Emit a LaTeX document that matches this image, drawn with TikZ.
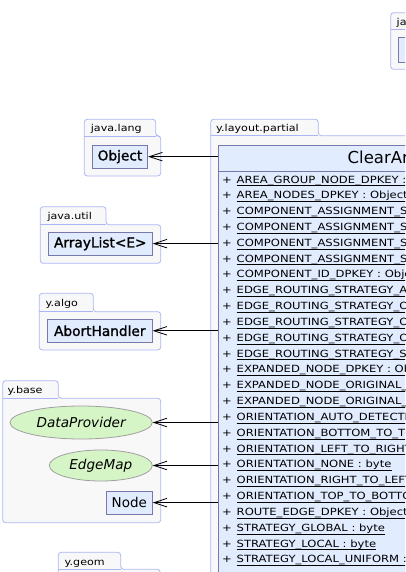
\documentclass[tikz,border=0pt]{standalone}
\usepackage{fontspec}
\setmainfont{DejaVu Sans}
\newfontfamily\rowfont[FakeStretch=1.17]{DejaVu Sans}
\newfontfamily\clsfont[FakeBold=1.3]{DejaVu Sans}
\usetikzlibrary{arrows.meta,shapes.geometric}
\definecolor{pkgborder}{RGB}{172,182,245}
\definecolor{pkgfill}{RGB}{248,248,248}
\definecolor{clsfill}{RGB}{226,236,255}
\definecolor{clsborder}{RGB}{120,120,172}
\definecolor{ellfill}{RGB}{214,245,198}
\definecolor{ellborder}{RGB}{160,160,160}
\newcommand\pkgoutline[6]{%
  \draw[pkg] (#1,#4) -- (#1,#3) -- (#2,#3) -- (#2,#4) -- (#5,#4) -- (#5,#6) -- (#1,#6) -- cycle;
  \draw[pkgborder, line width=0.8pt] (#1,#4) -- (#2,#4);}
\begin{document}
\begin{tikzpicture}[x=1pt,y=-1pt,
  pkg/.style={draw=pkgborder, fill=pkgfill, line width=0.8pt, rounded corners=3pt},
  pkgtxt/.style={inner sep=0pt, anchor=base west, font=\rowfont\fontsize{9.5}{11}\selectfont},
  clsbox/.style={draw=clsborder, fill=clsfill, line width=0.8pt, rectangle, inner sep=0pt},
  clsname/.style={clsbox, font=\clsfont\fontsize{13.7}{15}\selectfont},
  ifcbox/.style={draw=ellborder, fill=ellfill, line width=0.8pt, ellipse, inner sep=0pt,
     font=\fontsize{13.6}{15}\selectfont\itshape},
  rowtxt/.style={inner sep=0pt, anchor=base west, font=\rowfont\fontsize{9.9}{11}\selectfont},
  dep/.style={draw=black, line width=0.8pt, -{Straight Barb[length=13pt,width=8.5pt]}}]
\clip (0,0) rectangle (405,572);
% packages
\pkgoutline{84.3}{155.7}{119.3}{136}{160.7}{176}
\pkgoutline{40.3}{106}{206.7}{224.7}{160.7}{263.3}
\pkgoutline{39.3}{93.3}{293.3}{311.7}{160.7}{350}
\pkgoutline{2.7}{58.3}{380.7}{398.3}{160.7}{522.7}
\pkgoutline{58.3}{120.7}{552.3}{569.3}{160.3}{660}
\pkgoutline{210.7}{318.3}{119.3}{135.7}{620}{700}
\pkgoutline{390.7}{470}{12.7}{29.3}{520}{69.3}
\node[pkgtxt] (l1) at (90.7,131.5) {java.lang};
\node[pkgtxt] (l2) at (47.3,219.2) {java.util};
\node[pkgtxt] (l3) at (45.5,306.3) {y.algo};
\node[pkgtxt] (l4) at (7.3,393.6) {y.base};
\node[pkgtxt] (l5) at (64.5,565.6) {y.geom};
\node[pkgtxt] (l6) at (216,131.3) {y.layout.partial};
\node[pkgtxt] (l7) at (396.5,25.2) {java.lang};
% classes
\node[clsname, minimum width=55.4pt, minimum height=23.3pt] (object) at (120,156.65) {Object};
\node[clsname, minimum width=104pt, minimum height=22.7pt] (arraylist) at (100.3,243.65) {ArrayList<E>};
\node[clsname, minimum width=105pt, minimum height=23pt] (abort) at (99.8,330.8) {AbortHandler};
\node[ifcbox, minimum width=142.3pt, minimum height=33pt] (dataprov) at (81.15,422.5) {DataProvider};
\node[ifcbox, minimum width=103pt, minimum height=31pt] (edgemap) at (100.8,465.5) {EdgeMap};
\node[clsbox, minimum width=46pt, minimum height=23.3pt, font=\fontsize{13.5}{15}\selectfont] (nodecls) at (129.3,502.65) {Node};
\node[clsbox, minimum width=120pt, minimum height=24.4pt, anchor=north west] (jcls) at (398.3,37.3) {};
\node[clsbox, minimum width=400pt, minimum height=600pt, anchor=north west] (cls) at (218,145) {};
\draw[clsborder, line width=0.8pt] ([yshift=-26pt]cls.north west) -- ([yshift=-26pt]cls.north east);
\node[inner sep=0pt, anchor=base west, font=\fontsize{16.5}{18}\selectfont] (title) at (347.5,164) {ClearAreaLayouter};
\foreach \t [count=\i] in {
 AREA\_GROUP\_NODE\_DPKEY : Object,
 AREA\_NODES\_DPKEY : Object,
 COMPONENT\_ASSIGNMENT\_STRATEGY\_CLUSTERING : byte,
 COMPONENT\_ASSIGNMENT\_STRATEGY\_CONNECTED : byte,
 COMPONENT\_ASSIGNMENT\_STRATEGY\_CUSTOMIZED : byte,
 COMPONENT\_ASSIGNMENT\_STRATEGY\_SINGLE : byte,
 COMPONENT\_ID\_DPKEY : Object,
 EDGE\_ROUTING\_STRATEGY\_AUTOMATIC : byte,
 EDGE\_ROUTING\_STRATEGY\_OCTILINEAR : byte,
 EDGE\_ROUTING\_STRATEGY\_ORGANIC : byte,
 EDGE\_ROUTING\_STRATEGY\_ORTHOGONAL : byte,
 EDGE\_ROUTING\_STRATEGY\_STRAIGHTLINE : byte,
 EXPANDED\_NODE\_DPKEY : Object,
 EXPANDED\_NODE\_ORIGINAL\_BOUNDS\_DPKEY : Object,
 EXPANDED\_NODE\_ORIGINAL\_NODES\_DPKEY : Object,
 ORIENTATION\_AUTO\_DETECTION : byte,
 ORIENTATION\_BOTTOM\_TO\_TOP : byte,
 ORIENTATION\_LEFT\_TO\_RIGHT : byte,
 ORIENTATION\_NONE : byte,
 ORIENTATION\_RIGHT\_TO\_LEFT : byte,
 ORIENTATION\_TOP\_TO\_BOTTOM : byte,
 ROUTE\_EDGE\_DPKEY : Object,
 STRATEGY\_GLOBAL : byte,
 STRATEGY\_LOCAL : byte,
 STRATEGY\_LOCAL\_UNIFORM : byte} {
  \node[rowtxt] (p\i) at ({222},{183+(\i-1)*15.83}) {+};
  \node[rowtxt] (r\i) at ({236.5},{183+(\i-1)*15.83}) {\t};
  \draw[line width=0.8pt] ([yshift=-2.7pt]r\i.base west) -- ([yshift=-2.7pt]r\i.base east);
}
% dependencies
\draw[dep] (object.east -| cls.west) -- (object.east);
\draw[dep] (arraylist.east -| cls.west) -- (arraylist.east);
\draw[dep] (abort.east -| cls.west) -- (abort.east);
\draw[dep] (dataprov.east -| cls.west) -- (dataprov.east);
\draw[dep] (edgemap.east -| cls.west) -- (edgemap.east);
\draw[dep] (nodecls.east -| cls.west) -- (nodecls.east);
\end{tikzpicture}
\end{document}
